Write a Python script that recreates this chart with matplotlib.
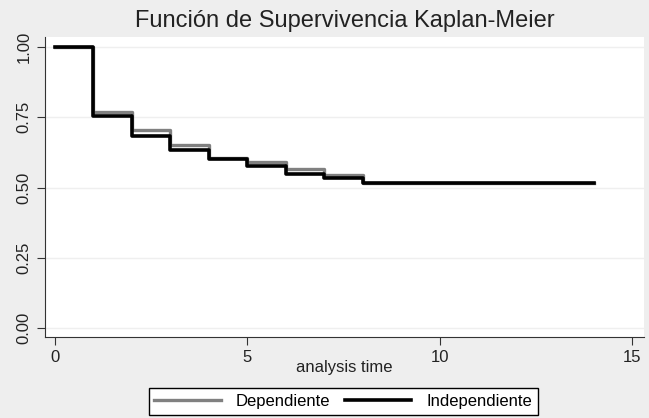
import matplotlib
matplotlib.use("Agg")
import matplotlib.pyplot as plt

# Kaplan-Meier estimates
times = [0, 1, 2, 3, 4, 5, 6, 7, 8, 14]
dependiente = [1.0, 0.770, 0.704, 0.650, 0.606, 0.590, 0.567, 0.543, 0.515, 0.515]
independiente = [1.0, 0.754, 0.685, 0.632, 0.600, 0.575, 0.549, 0.535, 0.515, 0.515]
xticks = [0, 5, 10, 15]
yticks = [0.0, 0.25, 0.5, 0.75, 1.0]

plt.rcParams['font.family'] = ['Liberation Sans', 'DejaVu Sans']

fig = plt.figure(figsize=(6.49, 4.18), dpi=100, facecolor='#eeeeee')
ax = fig.add_axes([0.0693, 0.1938, 0.923, 0.7177])
ax.set_facecolor('white')

ax.step(times, dependiente, where='post', color='#808080', lw=2.4, label='Dependiente')
ax.step(times, independiente, where='post', color='black', lw=2.6, label='Independiente')

ax.set_xlim(-0.26, 15.3)
ax.set_ylim(-0.032, 1.036)
ax.set_xticks(xticks)
ax.set_yticks(yticks)
ax.set_yticklabels(['%.2f' % v for v in yticks], rotation=90, va='center')
ax.tick_params(labelsize=12, length=6, color='#333333', labelcolor='#222222')
ax.grid(axis='y', color='#efefef', lw=1)
ax.set_axisbelow(True)

for s in ['top', 'right']:
    ax.spines[s].set_visible(False)
for s in ['left', 'bottom']:
    ax.spines[s].set_color('#333333')

ax.set_xlabel('analysis time', fontsize=12, color='#222222', labelpad=-4)
fig.text(0.531, 0.95, 'Función de Supervivencia Kaplan-Meier', fontsize=17,
         ha='center', va='center', color='#222222')

leg = fig.legend(loc='lower center', bbox_to_anchor=(0.529, 0.007), ncol=2, fontsize=12,
                 handlelength=4.0, fancybox=False, framealpha=1, edgecolor='black',
                 borderpad=0.35, borderaxespad=0, columnspacing=0.85, handletextpad=0.9)
leg.get_frame().set_linewidth(1.0)

fig.savefig('out.png', dpi=100, facecolor=fig.get_facecolor())
